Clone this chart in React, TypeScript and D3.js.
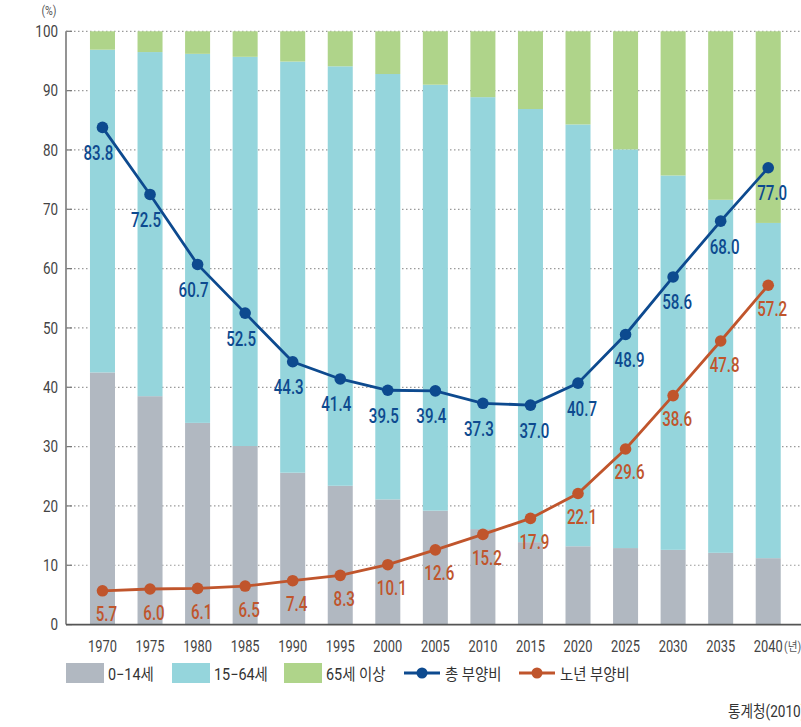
import * as d3 from 'd3';

const years = ['1970', '1975', '1980', '1985', '1990', '1995', '2000', '2005', '2010', '2015', '2020', '2025', '2030', '2035', '2040'];
// 연령대별 인구 구성비 (%)
const young = [42.5, 38.5, 34.0, 30.1, 25.6, 23.4, 21.1, 19.2, 16.1, 13.9, 13.2, 12.9, 12.6, 12.1, 11.2];
const old = [3.1, 3.5, 3.8, 4.3, 5.1, 5.9, 7.2, 9.0, 11.1, 13.1, 15.7, 19.9, 24.3, 28.4, 32.3];
// 부양비
const totalRatio = [83.8, 72.5, 60.7, 52.5, 44.3, 41.4, 39.5, 39.4, 37.3, 37.0, 40.7, 48.9, 58.6, 68.0, 77.0];
const oldRatio = [5.7, 6.0, 6.1, 6.5, 7.4, 8.3, 10.1, 12.6, 15.2, 17.9, 22.1, 29.6, 38.6, 47.8, 57.2];
const yTicks = [0, 10, 20, 30, 40, 50, 60, 70, 80, 90, 100];

const seriesNames = ['0−14세', '15−64세', '65세 이상'];
const lineNames = ['총 부양비', '노년 부양비'];

const W = 801;
const H = 727;
const colors = ['#b1b8c1', '#95d5dc', '#afd48a'];
const blue = '#0d4a8f';
const orange = '#c0552c';
const font = 'Roboto, "Noto Sans CJK KR", sans-serif';

// condensed look: the reference uses a narrow face, so squeeze horizontally
function NText({ x, y, sx = 0.8, anchor = 'start', size = 16, fill = '#444', weight = 400, children }: any) {
  return (
    <text
      transform={`translate(${x},${y}) scale(${sx},1)`}
      textAnchor={anchor}
      fontSize={size}
      fill={fill}
      fontWeight={weight}
      fontFamily={font}
    >
      {children}
    </text>
  );
}

export default function App() {
  const x = d3.scaleBand<string>().domain(years).range([78.7, 792]).paddingInner(0.474).paddingOuter(0.237);
  const y = d3.scaleLinear().domain([0, 100]).range([624.6, 31.3]);

  const rows = years.map((yr, i) => ({
    year: yr,
    young: young[i],
    work: +(100 - young[i] - old[i]).toFixed(1),
    old: old[i],
  }));
  const stacked = d3.stack<any>().keys(['young', 'work', 'old'])(rows);

  const cx = (i: number) => (x(years[i]) ?? 0) + x.bandwidth() / 2;
  const line = d3
    .line<number>()
    .x((_, i) => cx(i))
    .y((d) => y(d));

  // labels drift away from the line: left where it falls, right where it rises
  const slopeDx = (vals: number[], i: number) => {
    const a = vals[Math.max(0, i - 1)];
    const b = vals[Math.min(vals.length - 1, i + 1)];
    return b > a ? 4 : -4;
  };

  const lineSeries = [
    { vals: totalRatio, color: blue, dy: 25 },
    { vals: oldRatio, color: orange, dy: 23 },
  ];

  return (
    <svg width={W} height={H} style={{ position: 'absolute', left: 0, top: 0, background: '#fff' }}>
      {/* grid */}
      {yTicks.map((t) => (
        <g key={t}>
          {t > 0 && (
            <line x1={66} x2={W} y1={y(t)} y2={y(t)} stroke="#9a9a9a" strokeWidth={1.2} strokeDasharray="1.5 2.5" />
          )}
          <line x1={66} x2={72} y1={y(t)} y2={y(t)} stroke="#777" strokeWidth={1.2} />
          <NText x={58} y={y(t) + 5.8} anchor="end" sx={0.84} size={16}>
            {t}
          </NText>
        </g>
      ))}
      <NText x={49} y={15} anchor="middle" size={12.5} fill="#555" sx={0.85}>
        (%)
      </NText>

      {/* bars */}
      {stacked.map((s, si) => (
        <g key={si} fill={colors[si]}>
          {s.map((d, i) => (
            <rect key={i} x={x(years[i])} y={y(d[1])} width={x.bandwidth()} height={y(d[0]) - y(d[1])} />
          ))}
        </g>
      ))}

      {/* axes */}
      <line x1={66} x2={66} y1={y(100)} y2={y(0)} stroke="#888" strokeWidth={1.8} />
      <line x1={66} x2={W} y1={y(0)} y2={y(0)} stroke="#555" strokeWidth={1.6} />
      {years.map((yr, i) => (
        <NText key={yr} x={cx(i)} y={652} anchor="middle" size={16.5} sx={0.78}>
          {yr}
        </NText>
      ))}
      <NText x={784} y={651} size={12.5} fill="#555" sx={0.85}>
        (년)
      </NText>

      {/* lines */}
      {lineSeries.map((ls, li) => (
        <g key={li}>
          <path d={line(ls.vals) ?? ''} fill="none" stroke={ls.color} strokeWidth={2.8} />
          {ls.vals.map((v, i) => (
            <circle key={i} cx={cx(i)} cy={y(v)} r={5.8} fill={ls.color} />
          ))}
          {ls.vals.map((v, i) => (
            <NText
              key={'t' + i}
              x={cx(i) + slopeDx(ls.vals, i)}
              y={y(v) + ls.dy + 7.5}
              anchor="middle"
              size={21}
              sx={0.72}
              fill={ls.color}
              weight={500}
            >
              {v.toFixed(1)}
            </NText>
          ))}
        </g>
      ))}

      {/* legend */}
      {seriesNames.map((n, i) => {
        const lx = [66, 172, 284][i];
        return (
          <g key={n}>
            <rect x={lx} y={663} width={38} height={20} fill={colors[i]} />
            <NText x={lx + 42} y={680} size={16} fill="#333" sx={0.9}>
              {n}
            </NText>
          </g>
        );
      })}
      {lineNames.map((n, i) => {
        const lx = [404, 519][i];
        const c = [blue, orange][i];
        return (
          <g key={n}>
            <line x1={lx} x2={lx + 36} y1={673} y2={673} stroke={c} strokeWidth={2.8} />
            <circle cx={lx + 18} cy={673} r={5.5} fill={c} />
            <NText x={lx + 41} y={680} size={16} fill="#333" sx={0.9}>
              {n}
            </NText>
          </g>
        );
      })}
      <NText x={728} y={717} size={16} fill="#333" sx={0.85}>
        통계청(2010)
      </NText>
    </svg>
  );
}
